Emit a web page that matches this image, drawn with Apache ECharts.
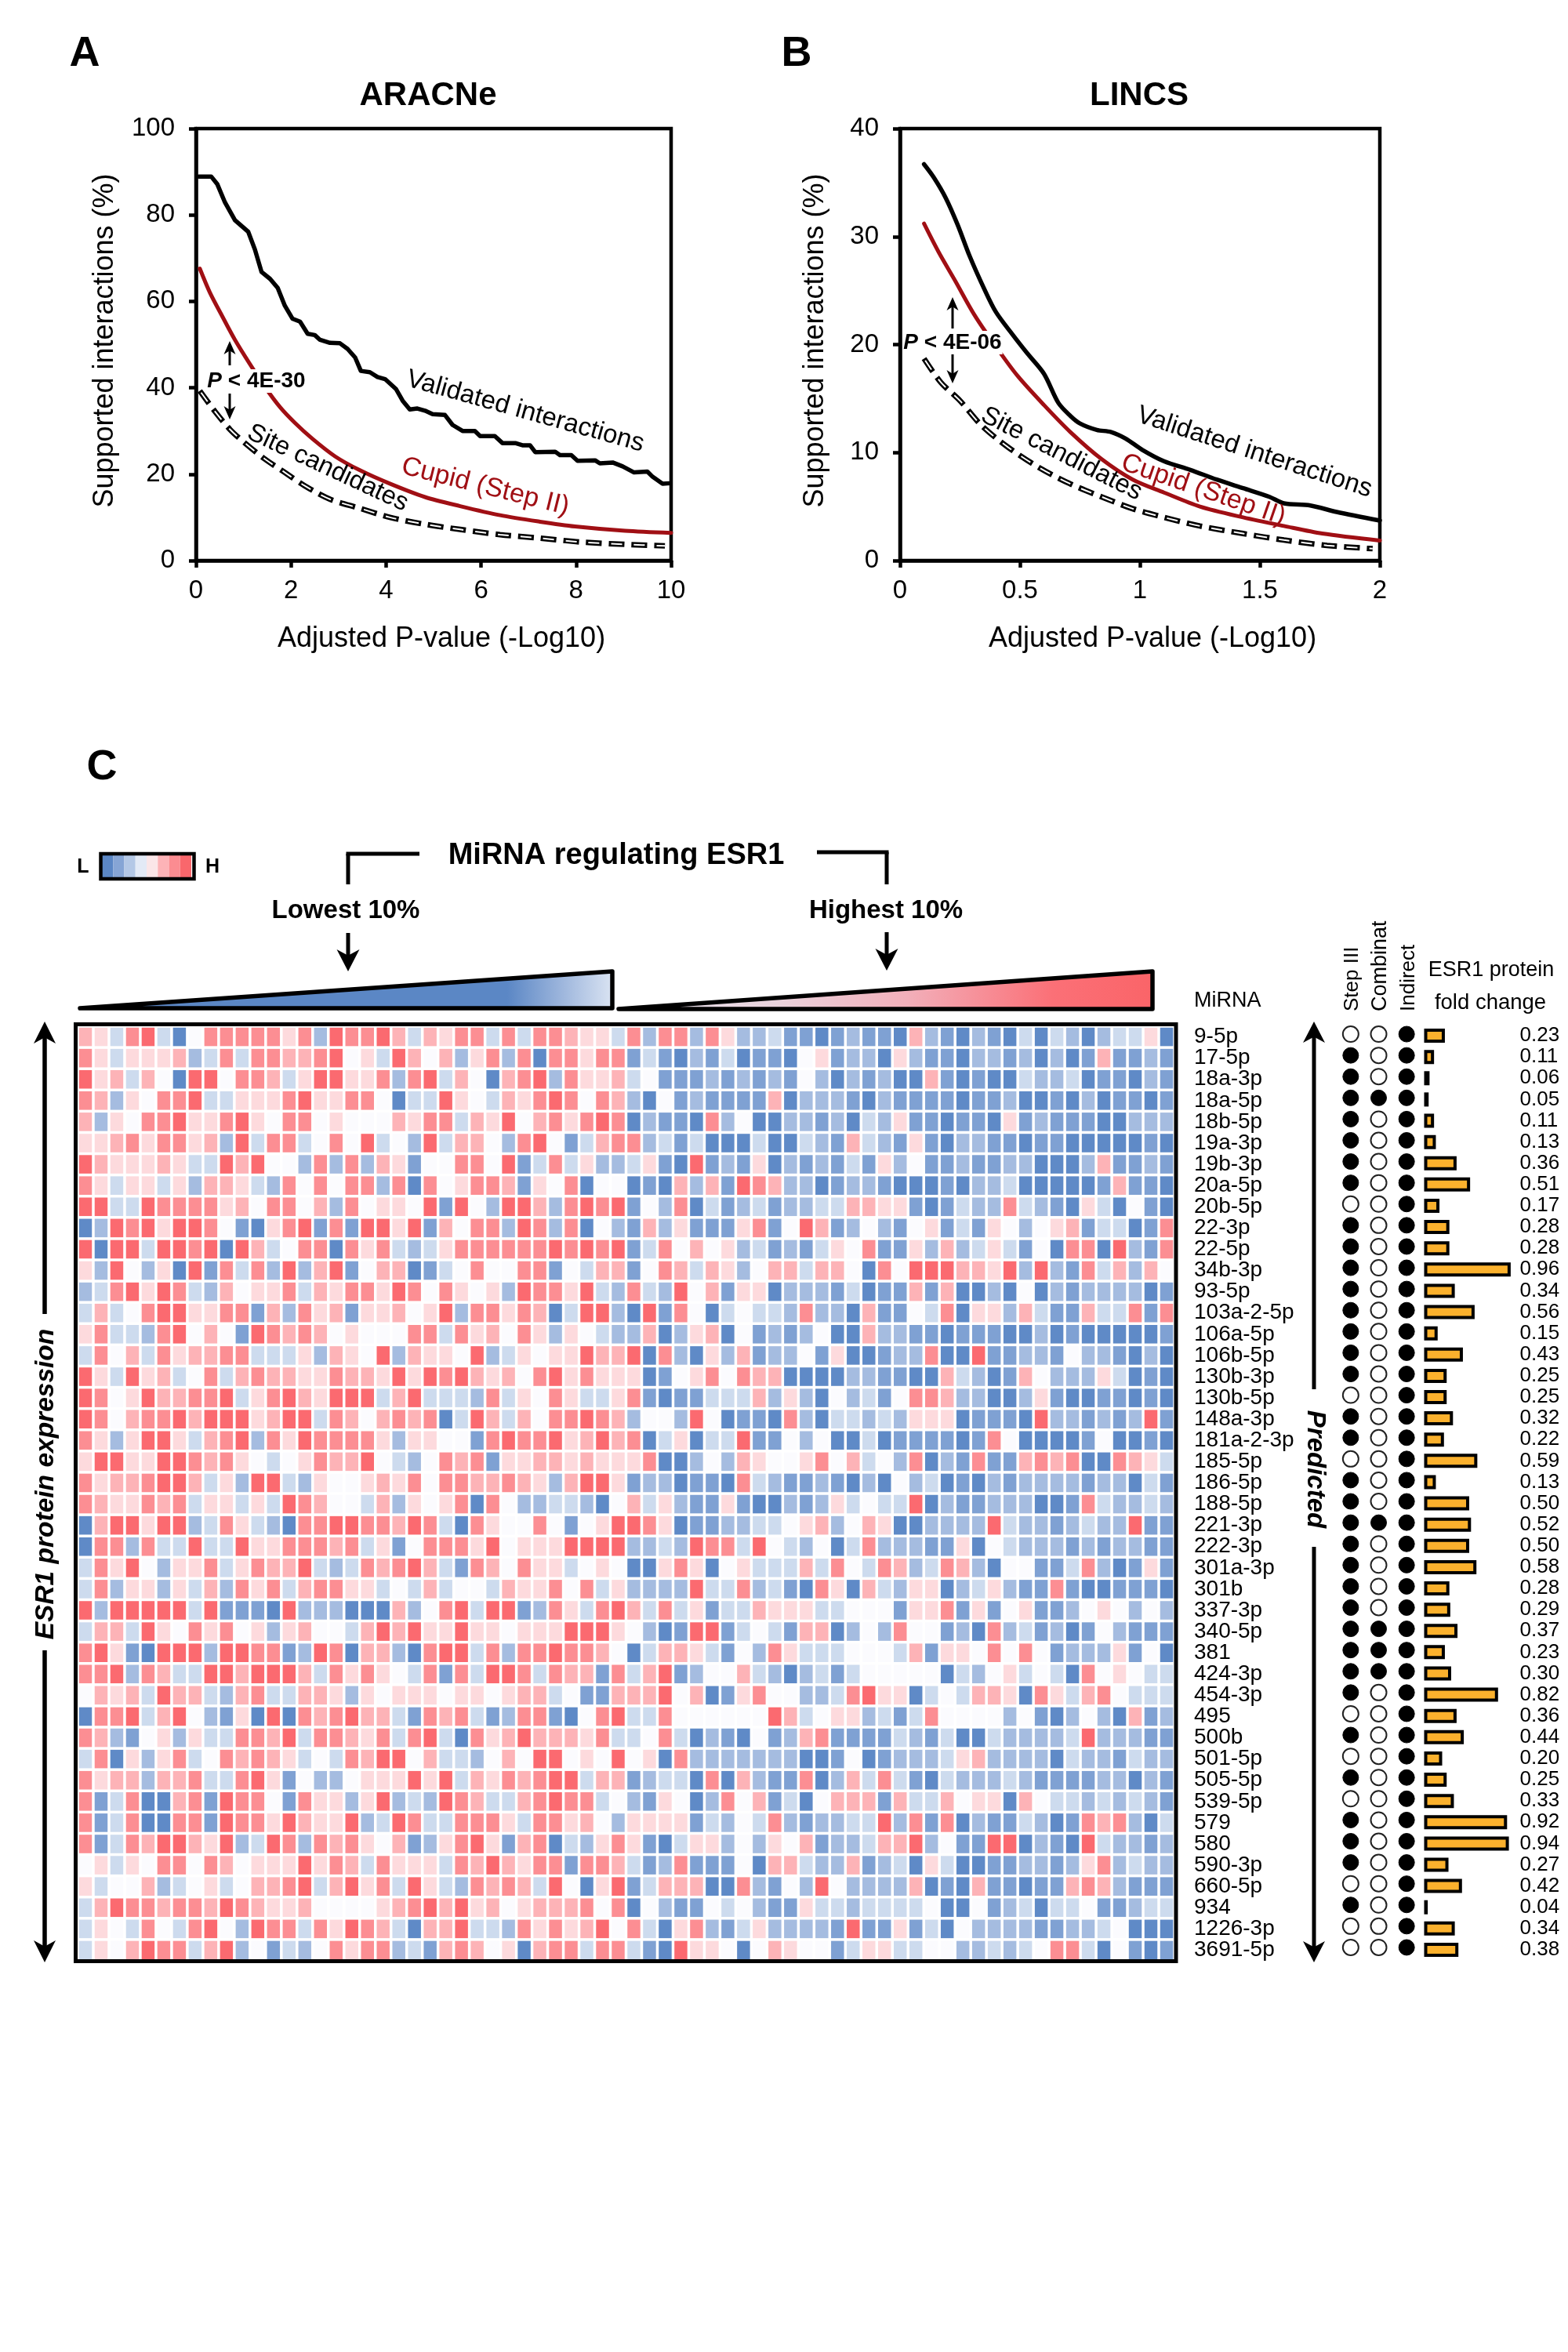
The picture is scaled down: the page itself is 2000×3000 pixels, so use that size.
<!DOCTYPE html>
<html>
<head>
<meta charset="utf-8">
<title>Chart</title>
<style>html,body{margin:0;padding:0;background:#fff}#c{width:2000px;height:3000px}</style>
<script src="https://cdn.jsdelivr.net/npm/echarts@6/dist/echarts.min.js"></script>
</head>
<body>
<div id="c"></div>
<script>
const FONT = '"Liberation Sans", Arial, sans-serif';

// Panel A
const aracneValidated = [[0.06,88.9],[0.32,88.9],[0.45,87.1],[0.61,82.9],[0.82,78.8],[1.1,76.1],[1.24,72],[1.38,66.8],[1.56,65.2],[1.72,63.1],[1.87,59],[2.03,56],[2.19,55.3],[2.35,52.5],[2.5,52.2],[2.61,51.1],[2.82,50.4],[3.03,50.3],[3.19,49],[3.35,47],[3.47,43.9],[3.66,43.6],[3.82,42.5],[3.98,42],[4.21,39.7],[4.35,37],[4.5,35],[4.66,35.2],[4.82,34.7],[4.98,33.9],[5.24,33.7],[5.4,31.4],[5.61,30],[5.87,30],[5.98,28.8],[6.29,28.8],[6.45,27.2],[6.72,27.2],[6.87,26.7],[7.03,26.7],[7.14,25.1],[7.56,25.2],[7.66,24.4],[7.9,24.4],[8.03,23.1],[8.4,23.2],[8.5,22.5],[8.77,22.7],[8.98,21.8],[9.22,20.4],[9.5,20.6],[9.61,19.4],[9.82,17.8],[9.98,17.9]];
const aracneCupid = [[0.08,67.6],[0.29,62.1],[0.56,56.4],[0.82,51.1],[1.14,45.4],[1.45,40.2],[1.77,35.5],[2.08,31.9],[2.45,28.2],[2.93,24.1],[3.45,20.9],[4.08,17.8],[4.82,14.7],[5.56,12.6],[6.4,10.5],[7.24,9],[7.98,7.9],[9.03,6.9],[10,6.4]];
const aracneSite = [[0.08,39.3],[0.4,34.5],[0.72,30.3],[1.03,27.2],[1.45,23.5],[1.87,20.4],[2.29,17.3],[2.82,14.2],[3.45,12.1],[4.08,10],[4.82,8.4],[5.56,7.2],[6.4,6],[7.24,5.2],[8.08,4.3],[9.03,3.75],[9.87,3.4]];
// Panel B
const lincsValidated = [[0.1,36.7],[0.14,35.5],[0.19,33.6],[0.24,31.1],[0.29,28.2],[0.35,25.2],[0.4,23],[0.47,20.9],[0.53,19.2],[0.6,17.3],[0.66,14.6],[0.71,13.4],[0.75,12.7],[0.82,12.1],[0.88,11.9],[0.94,11.3],[1.01,10.25],[1.1,9.2],[1.21,8.4],[1.32,7.5],[1.43,6.7],[1.54,5.9],[1.6,5.3],[1.71,5.1],[1.82,4.5],[2,3.7]];
const lincsCupid = [[0.1,31.2],[0.16,28.6],[0.23,25.9],[0.31,22.75],[0.4,19.8],[0.49,17.1],[0.6,14.4],[0.71,11.9],[0.84,9.4],[0.97,7.5],[1.1,6.3],[1.25,5],[1.43,4],[1.6,3.2],[1.76,2.5],[2,1.85]];
const lincsSite = [[0.1,18.7],[0.17,16.5],[0.25,14.8],[0.34,12.5],[0.45,10.5],[0.58,8.6],[0.71,7.1],[0.84,5.9],[0.97,4.8],[1.1,4],[1.25,3.2],[1.43,2.5],[1.6,1.9],[1.78,1.4],[1.97,1.1]];

// Panel C
const miRNA = ['9-5p','17-5p','18a-3p','18a-5p','18b-5p','19a-3p','19b-3p','20a-5p','20b-5p','22-3p','22-5p','34b-3p','93-5p','103a-2-5p','106a-5p','106b-5p','130b-3p','130b-5p','148a-3p','181a-2-3p','185-5p','186-5p','188-5p','221-3p','222-3p','301a-3p','301b','337-3p','340-5p','381','424-3p','454-3p','495','500b','501-5p','505-5p','539-5p','579','580','590-3p','660-5p','934','1226-3p','3691-5p'];
const foldChange = [0.23,0.11,0.06,0.05,0.11,0.13,0.36,0.51,0.17,0.28,0.28,0.96,0.34,0.56,0.15,0.43,0.25,0.25,0.32,0.22,0.59,0.13,0.50,0.52,0.50,0.58,0.28,0.29,0.37,0.23,0.30,0.82,0.36,0.44,0.20,0.25,0.33,0.92,0.94,0.27,0.42,0.04,0.34,0.38];
const methods = ['Step III','Combinat','Indirect'];
const stepIII =  [0,1,1,1,1,1,1,1,0,1,1,1,1,1,1,1,1,0,1,1,0,1,1,1,1,1,1,1,1,1,1,1,0,1,0,1,0,1,1,1,0,1,0,0];
const combinat = [0,0,0,1,0,0,0,0,0,0,0,0,0,0,0,0,0,0,0,0,0,0,0,1,0,0,0,0,1,1,1,0,0,0,0,0,0,0,0,0,0,0,0,0];
const indirect = [1,1,1,1,1,1,1,1,1,1,1,1,1,1,1,1,1,1,1,1,1,1,1,1,1,1,1,1,1,1,1,1,1,1,1,1,1,1,1,1,1,1,1,1];

// expression level per cell: 0 darkest blue ... 4 white ... 8 strongest red
const heatRows = [
"6537830477 7775728778 6365773737 7655 3727727522 3110121106 2102103032 023350",
"7535556237 3776678453 8646257270 7757 7131021301 1045122052 1102212020 161121",
"8563640884 7763588557 2783640678 2755 6341112121 2142021200 6101003223 011021",
"7625477833 5557855774 0338543657 8747 6204121111 6022210211 1101120010 201101",
"6254778557 8547745444 6577365846 7578 7021107240 0221203251 1011051211 100222",
"5567577562 8377347483 4283664278 4136 7723130003 0032163215 1022110110 000010",
"8655565338 6844272726 5144774813 7352 2351081215 0212131524 1121122000 261121",
"7535535266 5327474772 7074577615 4704 4010626187 6220122100 0102230000 016110",
"8833877775 6477462745 5481842886 2787 8142703123 1223366551 0132273210 530410",
"0287858874 1057817188 5816477287 2704 2162511157 1486124214 5131542456 133017",
"8088388780 8634770757 3235777777 8787 8137464523 1213547115 2623531407 708217",
"5284250817 3728268146 6013474477 1436 6147636524 6636640748 8866582821 736264",
"2378587326 4557365775 8747545287 7583 2732846155 0222130116 1600204021 222201",
"3634788557 7162756155 6458277576 0388 2081740343 3272206114 3705526311 633717",
"5733278464 1876764544 4773756475 2543 2260256041 2124006221 1011100201 000001",
"3746375667 7333526548 2655482354 5586680720 5261224150 0122700811 2214221020",
"8538563473 6766557665 8587865647 8575550145 7476600002 2110063201 6422253010",
"8745866778 3578658883 6833327354 7533571011 3336252042 3147762200 2510011010",
"8746778688 8568837646 7670386364 7787624428 4011072033 2325550111 0822121281",
"7525885367 8275877775 2554417877 8568670350 3381142400 3011110174 0000140010",
"5885588767 5434576684 3247671556 6565557002 4265445746 3427021711 6767007653",
"7566788635 2883254456 5747766765 2688512201 1073211210 2042301021 2222122031",
"7655767355 3538764436 2545707422 3320463521 1510021253 4338021122 2001732232",
"0688588237 5320778877 6873075447 4145887501 1223345624 6500222283 2212322811",
"0772733833 8557776735 1477758455 5888822328 7738432403 7222115043 2221212211",
"3758425573 5766832376 7863176475 5345400575 0453336374 3762376204 4113720151",
"3725525362 7573677553 4363443655 7473522228 3372310750 6325502352 1171001110",
"8288888381 1108222000 6247838812 7537863735 1336555334 4415571514 5112454242",
"3663854757 4525644368 6855855455 5888542018 8134316602 4274412072 3120142111",
"7851088828 8771287066 2078837277 8776403665 3142753334 4436155474 7412225140",
"7782763388 6888637575 4371738873 7661736812 4463202313 4444403245 3430745433",
"4656386632 6733665254 5554554566 3411666846 0157442237 8550343665 0753674333",
"0778368421 5080767866 3176731277 1047833744 4444863455 2313744442 4102420612",
"7621452533 7768377657 3783075686 6657334730 2104126711 1132130032 2223822211",
"3705257347 6765343768 8463324648 8454845072 2222220014 0122235622 2203221322",
"7566266733 7851422455 5858365767 8836612330 7062117026 3731032223 2111122021",
"7137006718 7741755258 2328763367 8773421540 2746130466 6163364550 6433232321",
"7137007718 7758655823 8733777537 7564255551 3243721223 3827170211 3201767203",
"7137688658 2387276754 6125785167 0325751035 5242546122 3668241188 0210832212",
"4535477476 4555857637 5553768657 7177631271 1140663226 1230530011 2212572322",
"5344623453 4667836857 3853276763 8405813666 0072142842 2226010611 0116762111",
"3687767768 7655644445 6786856456 6674704211 4342115332 3333400412 3033411233",
"3543743784 2877375876 3066833275 7568473057 2135222218 1151304222 2112234000",
"3546877368 2413247577 2316764506 7737731085 5404654413 5533442232 3477304101"
];
const heatPalette = ['#5f8ac7','#7fa1d3','#a5bce0','#cddbee','#fbfbfe','#fddadd','#fdb3b7','#fc8e93','#fb6a70'];
const legendColors = ['#5b87c5','#86a5d5','#b4c8e6','#e3eaf6','#fbe6e8','#fdb3b7','#fb8c91','#f9676c'];

const columns = Array.from({length:70},(_,i)=>String(i+1));
const heatData = [];
heatRows.forEach((row,r)=>{
  row.replace(/ /g,'').split('').forEach((ch,c)=>heatData.push([c,r,Number(ch)]));
});

const dotData = [];
[stepIII,combinat,indirect].forEach((arr,m)=>{
  arr.forEach((v,r)=>dotData.push({
    value:[m,r],
    itemStyle: v ? {color:'#000',borderColor:'#000',borderWidth:1,opacity:1} : {color:'#fff',borderColor:'#222',borderWidth:2,opacity:1}
  }));
});

const AX = {color:'#000',width:4.5};
function lineSeries(data,idx,color,width,smooth){
  return {type:'line',xAxisIndex:idx,yAxisIndex:idx,data,symbol:'none',smooth,
    lineStyle:{color,width,cap:'round',join:'round'},z:3,silent:true};
}
function siteSeries(data,idx){
  return [
    {type:'line',xAxisIndex:idx,yAxisIndex:idx,data,symbol:'none',smooth:0.3,
     lineStyle:{color:'#000',width:7,type:[20,9]},z:2,silent:true},
    {type:'line',xAxisIndex:idx,yAxisIndex:idx,data,symbol:'none',smooth:0.3,
     lineStyle:{color:'#fff',width:2,type:[14,15],dashOffset:-3},z:3,silent:true}
  ];
}
function valueAxes(xMax,xStep,yMax,yStep,idx){
  return {
    x:{type:'value',gridIndex:idx,min:0,max:xMax,interval:xStep,
      name:'Adjusted P-value (-Log10)',nameLocation:'middle',nameGap:82,
      nameTextStyle:{fontFamily:FONT,fontSize:36,color:'#000',padding:[0,0,0,idx===0?20:32]},
      axisLine:{show:true,lineStyle:AX},axisTick:{show:true,length:9,lineStyle:AX},
      axisLabel:{fontFamily:FONT,fontSize:33,color:'#000',margin:22},splitLine:{show:false}},
    y:{type:'value',gridIndex:idx,min:0,max:yMax,interval:yStep,
      name:'Supported interactions (%)',nameLocation:'middle',nameRotate:90,nameGap:idx===0?98:90,
      nameTextStyle:{fontFamily:FONT,fontSize:36,color:'#000',padding:[0,0,0,10]},
      axisLine:{show:true,lineStyle:AX},axisTick:{show:true,length:9,lineStyle:AX},
      axisLabel:{fontFamily:FONT,fontSize:33,color:'#000',margin:27},splitLine:{show:false}}
  };
}
const axA = valueAxes(10,2,100,20,0), axB = valueAxes(2,0.5,40,10,1);

// ---- annotations
function txt(text,x,y,size,opt){
  opt = opt||{};
  return {type:'text',x,y,rotation:(opt.rot||0)*Math.PI/180,z:opt.z||60,
    style:Object.assign({text,fontFamily:FONT,fontSize:size,fontWeight:opt.bold?'bold':'normal',
      fontStyle:opt.italic?'italic':'normal',fill:opt.color||'#000',textAlign:opt.align||'center',textVerticalAlign:'middle'},opt.style||{})};
}
function seg(x1,y1,x2,y2,w){
  return {type:'line',z:55,shape:{x1,y1,x2,y2},style:{stroke:'#000',lineWidth:w,lineCap:'butt',fill:null}};
}
function arrowHead(x,tip,dir,w,h){
  return {type:'polygon',z:56,shape:{points:[[x,tip],[x-w/2,tip+dir*h],[x,tip+dir*h*0.72],[x+w/2,tip+dir*h]]},style:{fill:'#000'}};
}
function pLabel(label,x,y){
  return {type:'text',x,y,z:58,style:{text:'{i|P} < '+label,fontFamily:FONT,fontSize:28,fontWeight:'bold',fill:'#000',
    textAlign:'center',textVerticalAlign:'middle',backgroundColor:'#fff',padding:[1,1],
    rich:{i:{fontFamily:FONT,fontSize:28,fontWeight:'bold',fontStyle:'italic',fill:'#000'}}}};
}
const RED = '#a00f14';
const gfx = [
  txt('A',108,69,54,{bold:true}), txt('B',1016,69,54,{bold:true}), txt('C',130,979,54,{bold:true}),
  txt('ARACNe',546,122,42,{bold:true}), txt('LINCS',1453,122,42,{bold:true}),
  // panel A text
  txt('Validated interactions',670,525,33,{rot:-15.6}),
  txt('Cupid (Step II)',619,621,34,{rot:-14,color:RED}),
  txt('Site candidates',418,597,32.5,{rot:-25}),
  pLabel('4E-30',327,486),
  seg(293,466,293,445,3), arrowHead(293,435,1,15,17),
  seg(293,502,293,525,3), arrowHead(293,535,-1,15,17),
  // panel B text
  txt('Validated interactions',1600,577,33,{rot:-18}),
  txt('Cupid (Step II)',1535,625,34,{rot:-19,color:RED}),
  txt('Site candidates',1354,579,33,{rot:-27}),
  pLabel('4E-06',1215,437),
  seg(1215,419,1215,390,3), arrowHead(1215,379,1,15,17),
  seg(1215,451,1215,478,3), arrowHead(1215,489,-1,15,17),
  // colour key
  txt('L',106,1106,25,{bold:true}), txt('H',271,1106,25,{bold:true}),
  // header
  txt('MiRNA regulating ESR1',786,1092,38,{bold:true}),
  txt('Lowest 10%',441,1162,33,{bold:true}), txt('Highest 10%',1130,1162,33,{bold:true}),
  seg(444,1128,444,1089,5), seg(441.5,1089,535,1089,5),
  seg(1131,1128,1131,1087,5), seg(1133.5,1087,1042,1087,5),
  seg(444,1190,444,1220,5), arrowHead(444,1239,-1,29,28),
  seg(1131,1189,1131,1219,5), arrowHead(1131,1238,-1,29,28),
  {type:'polygon',z:50,shape:{points:[[102,1286],[781,1286],[781,1239]]},
   style:{stroke:'#000',lineWidth:5.5,lineJoin:'round',
    fill:{type:'linear',x:0,y:0,x2:1,y2:0,colorStops:[{offset:0,color:'#5b87c5'},{offset:0.8,color:'#5b87c5'},{offset:0.9,color:'#9cb5dc'},{offset:1,color:'#dce5f3'}]}}},
  {type:'polygon',z:50,shape:{points:[[789,1287],[1470,1287],[1470,1239]]},
   style:{stroke:'#000',lineWidth:5.5,lineJoin:'round',
    fill:{type:'linear',x:0,y:0,x2:1,y2:0,colorStops:[{offset:0,color:'#e6e6f0'},{offset:0.3,color:'#ead2dc'},{offset:0.54,color:'#f2afba'},{offset:0.81,color:'#fb7077'},{offset:1,color:'#fa6468'}]}}},
  // heat map frame
  {type:'rect',z:50,shape:{x:96.5,y:1306.5,width:1403.5,height:1195},style:{fill:null,stroke:'#000',lineWidth:5}},
  // left arrow
  seg(57,1320,57,1676,5.5), arrowHead(57,1303,1,28,28),
  seg(57,2105,57,2485,5.5), arrowHead(57,2503,-1,28,28),
  txt('ESR1 protein expression',59,1893,33.5,{bold:true,italic:true,rot:90}),
  // right arrow
  seg(1676,1320,1676,1772,5), arrowHead(1676,1303,1,28,27),
  seg(1676,1973,1676,2485,5), arrowHead(1676,2503,-1,28,27),
  txt('Predicted',1677,1874,33,{bold:true,italic:true,rot:-90}),
  // column heads
  txt('MiRNA',1523,1277,27,{align:'left'}),
  txt('Step III',1725,1290,26,{rot:90,align:'left'}),
  txt('Combinat',1761,1290,27,{rot:90,align:'left'}),
  txt('Indirect',1797,1290,26,{rot:90,align:'left'}),
  txt('ESR1 protein',1902,1238,27),
  txt('fold change',1901,1279,27.5)
];
// colour key cells
legendColors.forEach((col,i)=>{
  gfx.push({type:'rect',z:49,shape:{x:130+i*14.25,y:1091,width:14.25,height:28},style:{fill:col}});
});
gfx.push({type:'rect',z:50,shape:{x:128.5,y:1089,width:119,height:32},style:{fill:null,stroke:'#000',lineWidth:4.5}});

const CELL_GAP = 3.5;
const option = {
  animation:false,
  backgroundColor:'#fff',
  grid:[
    {left:250,top:164,width:606,height:551,show:true,borderColor:'#000',borderWidth:4.5,backgroundColor:'#fff'},
    {left:1148,top:164,width:612,height:551,show:true,borderColor:'#000',borderWidth:4.5,backgroundColor:'#fff'},
    {left:99,top:1309,width:1399,height:1192},
    {left:1705,top:1305.5,width:107,height:1192},
    {left:1816.5,top:1307.5,width:115,height:1193}
  ],
  xAxis:[
    axA.x, axB.x,
    {type:'category',gridIndex:2,data:columns,show:false},
    {type:'category',gridIndex:3,data:methods,show:false},
    {type:'value',gridIndex:4,min:0,max:1,show:false}
  ],
  yAxis:[
    axA.y, axB.y,
    {type:'category',gridIndex:2,data:miRNA,inverse:true,position:'right',
      axisLine:{show:false},axisTick:{show:false},
      axisLabel:{fontFamily:FONT,fontSize:28,color:'#000',margin:25,interval:0,padding:[3,0,0,0]}},
    {type:'category',gridIndex:3,data:miRNA,inverse:true,show:false},
    {type:'category',gridIndex:4,data:miRNA,inverse:true,position:'right',
      axisLine:{show:false},axisTick:{show:false},
      axisLabel:{fontFamily:FONT,fontSize:26,color:'#000',margin:7,interval:0,
        formatter:(v,i)=>foldChange[i].toFixed(2)}}
  ],
  series:[
    ...siteSeries(aracneSite,0),
    lineSeries(aracneCupid,0,RED,5,0.3),
    lineSeries(aracneValidated,0,'#000',5.5,false),
    ...siteSeries(lincsSite,1),
    lineSeries(lincsCupid,1,RED,5,0.3),
    lineSeries(lincsValidated,1,'#000',5.5,0.3),
    {type:'custom',xAxisIndex:2,yAxisIndex:2,data:heatData,silent:true,progressive:0,
      encode:{x:0,y:1},
      renderItem:(params,api)=>{
        const c = api.coord([api.value(0),api.value(1)]);
        const s = api.size([1,1]);
        return {type:'rect',
          shape:{x:c[0]-s[0]/2+CELL_GAP/2,y:c[1]-s[1]/2+CELL_GAP/2,width:s[0]-CELL_GAP,height:s[1]-CELL_GAP},
          style:{fill:heatPalette[api.value(2)]}};
      }},
    {type:'scatter',xAxisIndex:3,yAxisIndex:3,data:dotData,symbol:'circle',symbolSize:20,silent:true},
    {type:'bar',xAxisIndex:4,yAxisIndex:4,data:foldChange,barWidth:18,silent:true,
      itemStyle:{color:'#fbb12d',borderColor:'#000',borderWidth:4}}
  ],
  graphic:{elements:gfx}
};
const chart = echarts.init(document.getElementById('c'),null,{renderer:'canvas',width:2000,height:3000});
chart.setOption(option);
</script>
</body>
</html>
